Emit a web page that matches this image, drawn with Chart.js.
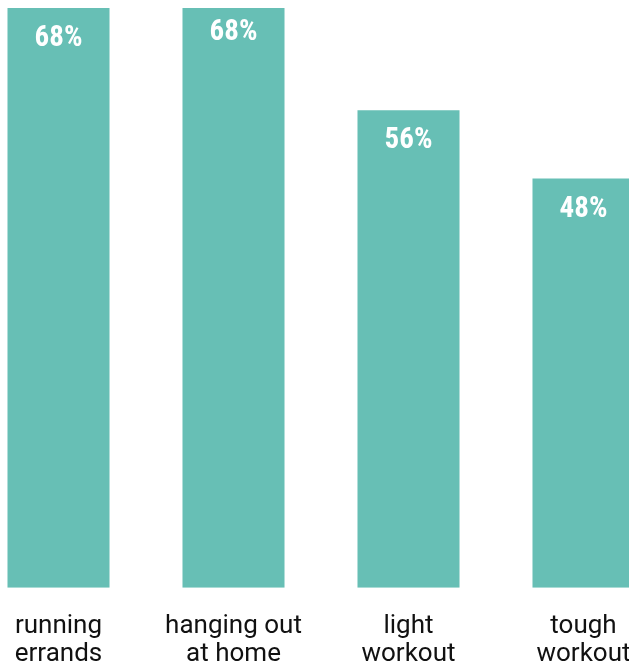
<!DOCTYPE html>
<html>
<head>
<meta charset="utf-8">
<script src="https://cdn.jsdelivr.net/npm/chart.js@4.4.0/dist/chart.umd.min.js"></script>
<style>
  html, body { margin: 0; padding: 0; background: #fff; overflow: hidden; width: 629px; height: 665px; }
  #wrap { position: absolute; left: -29px; top: 0; width: 700px; height: 693px; }
</style>
</head>
<body>
<div id="wrap"><canvas id="c" width="700" height="693"></canvas></div>
<script>
const categories = [["running", "errands"], ["hanging out", "at home"], ["light", "workout"], ["tough", "workout"]];
const values = [68, 68, 56, 48];
const valueLabels = ["68%", "68%", "56%", "48%"];

const barColor = "#67bfb5";

const valueLabelPlugin = {
  id: "valueLabels",
  afterDatasetsDraw(chart) {
    const ctx = chart.ctx;
    const meta = chart.getDatasetMeta(0);
    ctx.save();
    ctx.fillStyle = "#ffffff";
    ctx.font = "bold 29px 'Liberation Sans Narrow', 'Roboto Condensed', 'DejaVu Sans Condensed', sans-serif";
    ctx.textAlign = "center";
    ctx.textBaseline = "alphabetic";
    meta.data.forEach((bar, i) => {
      const off = i === 1 ? 32 : 38;
      ctx.fillText(valueLabels[i], bar.x, bar.y + off);
    });
    ctx.restore();
  }
};

new Chart(document.getElementById("c"), {
  type: "bar",
  data: {
    labels: categories,
    datasets: [{
      data: values,
      backgroundColor: barColor,
      borderWidth: 0,
      barPercentage: 0.583,
      categoryPercentage: 1.0
    }]
  },
  options: {
    responsive: false,
    animation: false,
    layout: { padding: { top: 8, left: 0, right: 0, bottom: 0 } },
    plugins: { legend: { display: false }, tooltip: { enabled: false } },
    scales: {
      y: { display: false, min: 0, max: 68 },
      x: {
        offset: true,
        grid: { display: false, drawTicks: false },
        border: { display: false },
        ticks: {
          color: "#111111",
          padding: 24,
          maxRotation: 0,
          autoSkip: false,
          font: { family: "Roboto, 'Liberation Sans', sans-serif", size: 26, lineHeight: 1.1 }
        }
      }
    }
  },
  plugins: [valueLabelPlugin]
});
</script>
</body>
</html>
